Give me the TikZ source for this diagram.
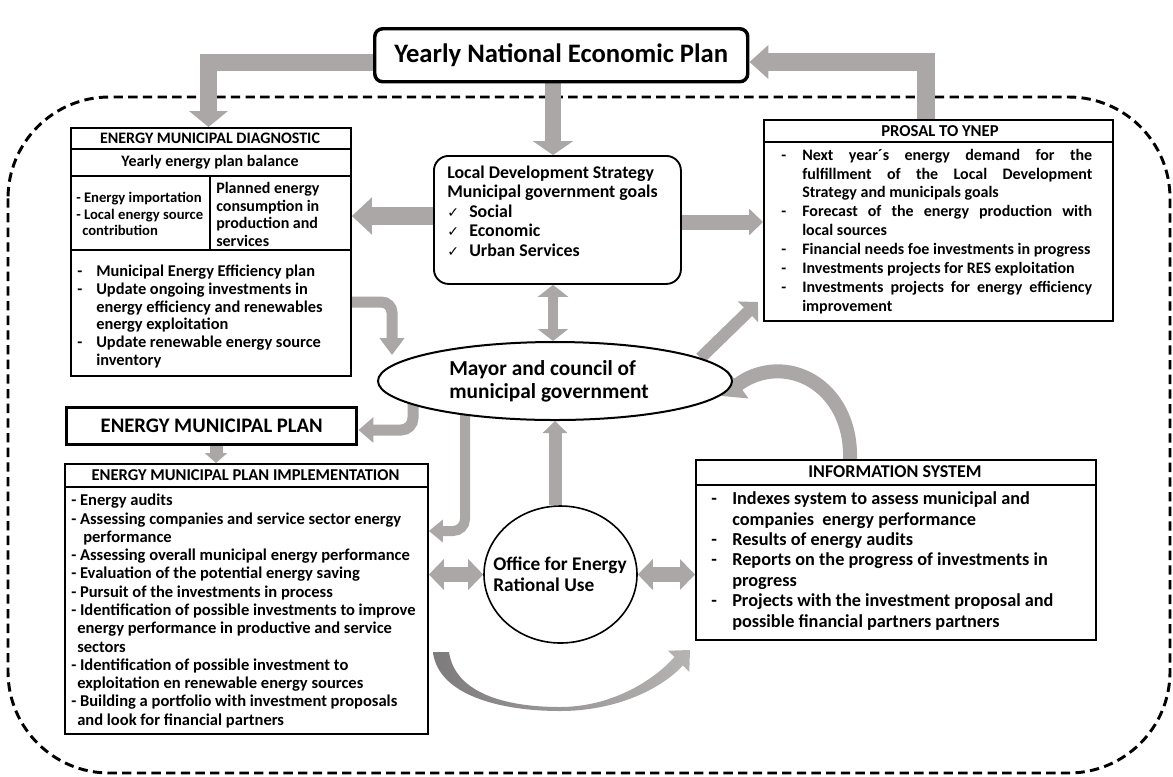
\documentclass[tikz,border=0pt]{standalone}
\usepackage{fontspec}
\setmainfont{Carlito}
\newfontfamily\dejavu{DejaVu Sans}
\usetikzlibrary{arrows.meta,shapes.geometric,calc}
\definecolor{ag}{RGB}{170,167,166}
\definecolor{agd}{RGB}{125,123,123}
\definecolor{agl}{RGB}{182,180,179}
\pgfdeclarelayer{bg}
\pgfsetlayers{bg,main}
\newcommand\fs[2]{\fontsize{#1}{#2}\selectfont\bfseries}
\newcommand\dl[1]{\makebox[#1][l]{-}}
\newcommand\ck{\makebox[16.5pt][l]{\dejavu\mdseries\fontsize{10.5}{12}\selectfont ✓}}
\tikzset{
  frame/.style={draw=black, line width=1.4pt, fill=white, inner sep=0pt},
  thickframe/.style={draw=black, line width=2.6pt, fill=white, inner sep=0pt},
  txt/.style={inner sep=0pt, align=left},
  sepline/.style={draw=black, line width=1.2pt},
  fat/.style={draw=ag, line width=#1},
  ahead/.style 2 args={-{Triangle[length=#1,width=#2]}},
  dhead/.style 2 args={{Triangle[length=#1,width=#2]}-{Triangle[length=#1,width=#2]}},
}
\begin{document}
\begin{tikzpicture}[x=0.75pt,y=-0.75pt]
\useasboundingbox (0,0) rectangle (1173,776);

% ---------- helper coordinates ----------
\coordinate (y62) at (0,62);
\coordinate (x208) at (208.5,0);
\coordinate (x926) at (926,0);
\coordinate (c553) at (553,0);
\coordinate (y216) at (0,216);
\coordinate (y222) at (0,222);
\coordinate (t7) at (758,302);
\coordinate (y302) at (0,302);
\coordinate (t8) at (392,355);
\coordinate (s9) at (413,400);
\coordinate (y430) at (0,430);
\coordinate (x216) at (216,0);
\coordinate (s11) at (465,412);
\coordinate (y531) at (0,531);
\coordinate (x555) at (555,0);
\coordinate (x850) at (850,0);
\coordinate (t15) at (722,396);

% ---------- boxes ----------
\node[thickframe, rounded corners=6pt, minimum width=279.75pt, minimum height=39.75pt,
      anchor=north west, font=\fs{20}{23}] (ynep) at (373,27) {Yearly National Economic Plan};

% Energy municipal diagnostic
\node[frame, minimum width=210pt, minimum height=186pt, anchor=north west] (diag) at (70,127) {};
\draw[sepline] ($(diag.north west)+(0,22)$) -- ($(diag.north east)+(0,22)$);
\draw[sepline] ($(diag.north west)+(0,49)$) -- ($(diag.north east)+(0,49)$);
\draw[sepline] ($(diag.north west)+(0,123)$) -- ($(diag.north east)+(0,123)$);
\draw[sepline] ($(diag.north west)+(140,49)$) -- ($(diag.north west)+(140,123)$);
\node[txt, font=\fs{12}{13}] (diagT) at (210,138) {ENERGY MUNICIPAL DIAGNOSTIC};
\node[txt, font=\fs{12}{14}] (diagY) at (210,162.5) {Yearly energy plan balance};
\node[txt, anchor=west, font=\fs{11}{12.3}] (diagL) at (76,214)
  {- Energy importation\\- Local energy source\\\hspace*{4.5pt}contribution};
\node[txt, anchor=west, font=\fs{12}{13.1}] (diagR) at (216,214.5)
  {Planned energy\\consumption in\\production and\\services};
\node[txt, anchor=west, font=\fs{12.3}{13.35}] (diagB) at (77,316.5)
  {\dl{14.25pt}Municipal Energy Efficiency plan\\
   \dl{14.25pt}Update ongoing investments in\\
   \hspace*{14.25pt}energy efficiency and renewables\\
   \hspace*{14.25pt}energy exploitation\\
   \dl{14.25pt}Update renewable energy source\\
   \hspace*{14.25pt}inventory};

% Local development strategy
\node[frame, rounded corners=11pt, minimum width=185.25pt, minimum height=96pt,
      anchor=north west] (lds) at (433,155) {};
\node[txt, anchor=west, font=\fs{13.4}{14.6}] (ldsT) at (447,211)
  {Local Development Strategy\\Municipal government goals\\
   \ck Social\\\ck Economic\\\ck Urban Services};

% Proposal to YNEP
\node[frame, minimum width=261.75pt, minimum height=150.75pt, anchor=north west] (prop) at (763,119) {};
\draw[sepline] ($(prop.north west)+(0,23)$) -- ($(prop.north east)+(0,23)$);
\node[txt, font=\fs{12.5}{13}] (propT) at (940,131) {PROSAL TO YNEP};
\node[txt, anchor=west, font=\fs{12}{14.2}] (propB) at (781,231.5)
  {\dl{15.75pt}\makebox[217.5pt][s]{Next year´s energy demand for the}\\
   \hspace*{15.75pt}\makebox[217.5pt][s]{fulfillment of the Local Development}\\
   \hspace*{15.75pt}Strategy and municipals goals\\
   \dl{15.75pt}\makebox[217.5pt][s]{Forecast of the energy production with}\\
   \hspace*{15.75pt}local sources\\
   \dl{15.75pt}Financial needs foe investments in progress\\
   \dl{15.75pt}Investments projects for RES exploitation\\
   \dl{15.75pt}\makebox[217.5pt][s]{Investments projects for energy efficiency}\\
   \hspace*{15.75pt}improvement};

% Mayor ellipse
\node[ellipse, draw=black, line width=1.5pt, fill=white, minimum width=265.5pt,
      minimum height=58.5pt, inner sep=0pt] (may) at (555,381) {};
\node[txt, font=\fs{16}{17.25}] (mayT) at (549,381.5) {Mayor and council of\\municipal government};

% Energy municipal plan
\node[thickframe, minimum width=217.5pt, minimum height=27.75pt, anchor=north west,
      font=\fs{15.5}{17}] (emp) at (65,406) {ENERGY MUNICIPAL PLAN};

% Implementation
\node[frame, minimum width=272.25pt, minimum height=202.5pt, anchor=north west] (empi) at (64,463) {};
\draw[sepline] ($(empi.north west)+(0,24)$) -- ($(empi.north east)+(0,24)$);
\node[txt, font=\fs{12.4}{13}] (empiT) at (245.5,475.5) {ENERGY MUNICIPAL PLAN IMPLEMENTATION};
\node[txt, anchor=west, font=\fs{12.4}{13.7}] (empiB) at (71,611)
  {- Energy audits\\
   - Assessing companies and service sector energy\\
   \hspace*{9pt}performance\\
   - Assessing overall municipal energy performance\\
   - Evaluation of the potential energy saving\\
   - Pursuit of the investments in process\\
   - Identification of possible investments to improve\\
   \hspace*{4.5pt}energy performance in productive and service\\
   \hspace*{4.5pt}sectors\\
   - Identification of possible investment to\\
   \hspace*{4.5pt}exploitation en renewable energy sources\\
   - Building a portfolio with investment proposals\\
   \hspace*{4.5pt}and look for financial partners};

% Office
\node[ellipse, draw=black, line width=1.2pt, fill=white, minimum width=114.75pt,
      minimum height=102.75pt, inner sep=0pt] (office) at (560.5,574.5) {};
\node[txt, font=\fs{14.5}{15.75}] (officeT) at (560,574.5) {Office for Energy\\Rational Use};

% Information system
\node[frame, minimum width=300pt, minimum height=135pt, anchor=north west] (info) at (695,459) {};
\draw[sepline] ($(info.north west)+(0,26)$) -- ($(info.north east)+(0,26)$);
\node[txt, font=\fs{13.5}{14}] (infoT) at (895,472) {INFORMATION SYSTEM};
\node[txt, anchor=west, font=\fs{13.7}{15.3}] (infoB) at (711,561)
  {\dl{15.75pt}Indexes system to assess municipal and\\
   \hspace*{15.75pt}companies\ \ energy performance\\
   \dl{15.75pt}Results of energy audits\\
   \dl{15.75pt}Reports on the progress of investments in\\
   \hspace*{15.75pt}progress\\
   \dl{15.75pt}Projects with the investment proposal and\\
   \hspace*{15.75pt}possible financial partners partners};

% ---------- background: boundary and arrows ----------
\begin{pgfonlayer}{bg}
\draw[black, line width=2.2pt, dash pattern=on 7pt off 4pt, rounded corners=76pt]
  (8,97) rectangle (1170,773);

% YNEP -> diagnostic
\draw[fat=12.75pt, ahead={12pt}{28.5pt}] (ynep.west |- y62) -| (diag.north -| x208);
% YNEP -> LDS
\draw[fat=12pt, ahead={10.5pt}{30pt}] (ynep.south -| c553) -- (lds.north -| c553);
% proposal -> YNEP
\draw[fat=13.5pt, ahead={14.25pt}{24.75pt}] (prop.north -| x926) |- (ynep.east |- y62);
% LDS -> diagnostic
\draw[fat=13.5pt, ahead={15pt}{27pt}] (lds.west |- y216) -- (diag.east |- y216);
% LDS -> proposal
\draw[fat=11.25pt, ahead={10.5pt}{19.5pt}] (lds.east |- y222) -- (prop.west |- y222);
% LDS <-> mayor
\draw[fat=7.5pt, dhead={9pt}{22.5pt}] (lds.south -| c553) -- (may.north -| c553);
% mayor -> proposal
\draw[fat=9pt, ahead={10.5pt}{21pt}] (may.9) -- (t7);
% diagnostic -> mayor
\draw[fat=8.25pt, rounded corners=8pt, ahead={12.75pt}{18pt}] (diag.east |- y302) -| (t8);
% mayor -> energy municipal plan
\draw[fat=8.25pt, rounded corners=9pt, ahead={11.25pt}{18.75pt}] (s9) |- (emp.east |- y430);
% plan -> implementation
\draw[fat=9.75pt, ahead={7.5pt}{16.5pt}] (emp.south -| x216) -- (empi.north -| x216);
% mayor -> implementation
\draw[fat=7.5pt, rounded corners=9pt, ahead={10.5pt}{16.5pt}] (s11) |- (empi.east |- y531);
% office -> mayor
\draw[fat=9.75pt, ahead={9pt}{18pt}] (office.north -| x555) -- (may.south -| x555);
% implementation <-> office
\draw[fat=11.25pt, dhead={11.25pt}{22.5pt}] (empi.east |- office.west) -- (office.west);
% office <-> information
\draw[fat=11.25pt, dhead={11.25pt}{22.5pt}] (office.east) -- (info.west |- office.east);
% information -> mayor (curved)
\draw[fat=10.5pt, ahead={15pt}{25.5pt}] (info.north -| x850) .. controls (852,385) and (785,350) .. (t15);
% implementation -> information (curved tapered arrow)
\shade[left color=agd, right color=agl]
  (433,652) .. controls (438,695) and (500,711) .. (560,711)
  .. controls (615,711) and (660,690) .. (682.9,665.5)
  -- (689.3,671.9) -- (690,650) -- (668.1,650.7) -- (674.4,657.1)
  .. controls (652,682) and (610,707) .. (560,707)
  .. controls (505,707) and (455,693) .. (449,652) -- cycle;
\end{pgfonlayer}
\end{tikzpicture}
\end{document}
